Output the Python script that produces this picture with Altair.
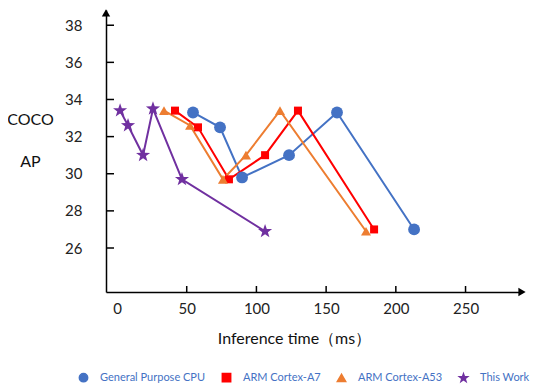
import altair as alt
import pandas as pd

STAR = ("M0,-1L0.235,-0.324L0.951,-0.309L0.380,0.124L0.588,0.809L0,0.4"
        "L-0.588,0.809L-0.380,0.124L-0.951,-0.309L-0.235,-0.324Z")

series_names = ["General Purpose CPU", "ARM Cortex-A7", "ARM Cortex-A53", "This Work"]
series_colors = ["#4472C4", "#FF0000", "#ED7D31", "#7030A0"]
series_shapes = ["circle", "square", "triangle-up", STAR]
series_sizes = [140, 64, 100, 220]

cpu_x = [54.5, 73.9, 89.7, 123.4, 157.8, 213.1]
cpu_y = [33.3, 32.5, 29.8, 31.0, 33.3, 27.0]
a7_x = [41.6, 58.1, 80.3, 106.2, 129.8, 184.4]
a7_y = [33.4, 32.5, 29.7, 31.0, 33.4, 27.0]
a53_x = [33.7, 52.4, 76.0, 92.5, 116.9, 178.6]
a53_y = [33.4, 32.6, 29.7, 31.0, 33.4, 26.9]
ours_x = [2.2, 7.9, 18.7, 25.8, 46.6, 106.2]
ours_y = [33.4, 32.6, 31.0, 33.5, 29.7, 26.9]

x_ticks = [0, 50, 100, 150, 200, 250]
y_ticks = [26, 28, 30, 32, 34, 36, 38]
x_domain = [-7.9, 290.5]
y_domain = [23.63, 38.82]

rows = []
for name, xs, ys in zip(series_names, [cpu_x, a7_x, a53_x, ours_x], [cpu_y, a7_y, a53_y, ours_y]):
    for i, (xv, yv) in enumerate(zip(xs, ys)):
        rows.append({"series": name, "time": xv, "ap": yv, "idx": i})
df = pd.DataFrame(rows)

FONT = "Lato"
X_TITLE = "Inference time（ms）"
Y_TITLE = ["COCO", "AP"]

xscale = alt.Scale(domain=x_domain, nice=False, zero=False)
yscale = alt.Scale(domain=y_domain, nice=False, zero=False)
cscale = alt.Scale(domain=series_names, range=series_colors)
sscale = alt.Scale(domain=series_names, range=series_shapes)

leg = alt.Legend(
    title=None, orient="none", direction="horizontal", legendX=-28, legendY=362,
    labelFont=FONT, labelFontSize=11, labelColor="#4472C4", symbolSize=70,
    labelOffset=11, columnPadding=13,
)
xaxis = alt.Axis(values=x_ticks, titleX=188, titleY=38, labelPadding=9)
yaxis = alt.Axis(values=y_ticks, labelPadding=24, titleAngle=0, titleX=-76, titleY=109,
                 titleAlign="center", titleBaseline="middle", titleLineHeight=42)


def X(field):
    return alt.X(field, scale=xscale, title=X_TITLE, axis=xaxis)


def Y(field):
    return alt.Y(field, scale=yscale, title=Y_TITLE, axis=yaxis)


lines = alt.Chart(df).mark_line(strokeWidth=2, aria=False).encode(
    x=X("time:Q"), y=Y("ap:Q"),
    color=alt.Color("series:N", scale=cscale, sort=series_names, legend=leg),
    detail="series:N",
)

point_layers = []
for name, sz in zip(series_names, series_sizes):
    point_layers.append(
        alt.Chart(df).transform_filter(alt.datum.series == name)
        .mark_point(filled=True, opacity=1, size=sz, aria=False)
        .encode(
            x=X("time:Q"), y=Y("ap:Q"),
            color=alt.Color("series:N", scale=cscale, sort=series_names, legend=leg),
            shape=alt.Shape("series:N", scale=sscale, sort=series_names, legend=leg),
        )
    )

xt = alt.Chart(pd.DataFrame({"time": x_ticks[1:]})).mark_rule(color="#000", strokeWidth=1.5, aria=False).encode(
    x=X("time:Q"), y=alt.value(282), y2=alt.value(276)
)
yt = alt.Chart(pd.DataFrame({"ap": y_ticks})).mark_rule(color="#000", strokeWidth=1.5, aria=False).encode(
    y=Y("ap:Q"), x=alt.value(0), x2=alt.value(8)
)
xarrow = alt.Chart(pd.DataFrame({"time": [x_domain[1]]})).mark_point(
    shape="triangle-right", filled=True, color="#000", size=70, opacity=1, aria=False
).encode(x=X("time:Q"), y=alt.value(282))
yarrow = alt.Chart(pd.DataFrame({"ap": [y_domain[1] - 0.15]})).mark_point(
    shape="triangle-up", filled=True, color="#000", size=70, opacity=1, aria=False
).encode(y=Y("ap:Q"), x=alt.value(0))

chart = alt.layer(lines, *point_layers, xt, yt, xarrow, yarrow).properties(
    width=416, height=282,
    autosize=alt.AutoSizeParams(type="none"),
    padding={"left": 98, "top": 2, "right": 20, "bottom": 92},
).configure_view(stroke=None).configure_axis(
    tickSize=0, grid=False, domainColor="#000", domainWidth=1.5,
    labelFont=FONT, labelFontSize=15, labelColor="#222",
    titleFont=FONT, titleFontSize=16, titleFontWeight="normal", titleColor="#111",
)

chart.save("out.html", embed_options={"renderer": "svg", "actions": False})
